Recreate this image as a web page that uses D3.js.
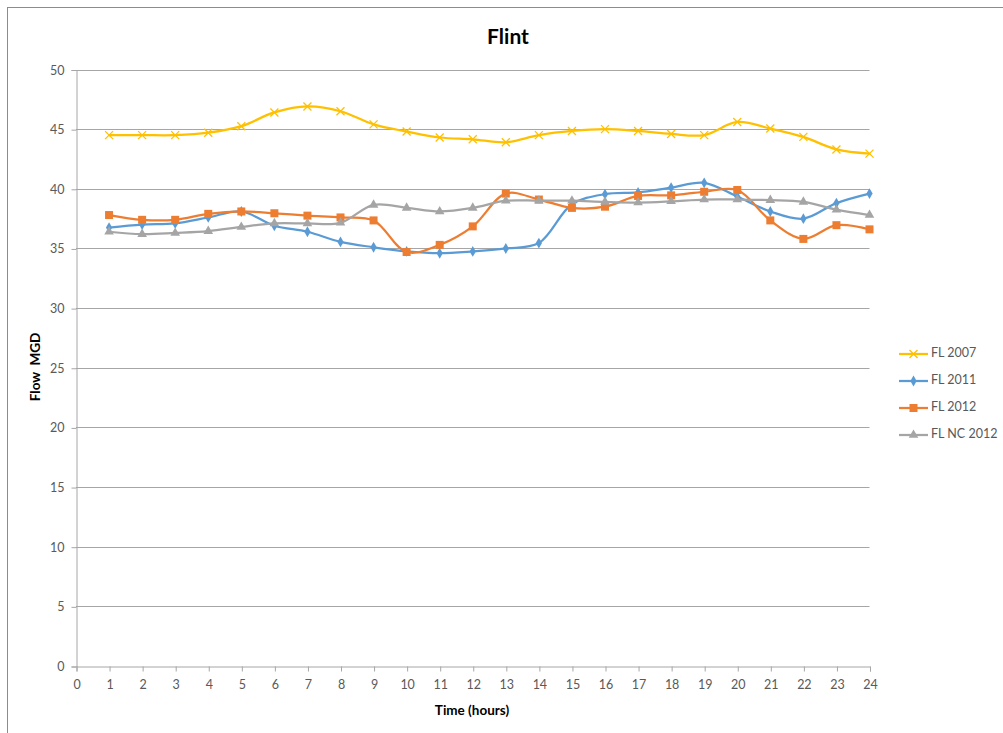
<!DOCTYPE html>
<html>
<head>
<meta charset="utf-8">
<script src="https://cdn.jsdelivr.net/npm/d3@7"></script>
<style>
  body { margin: 0; background: #fff; }
  svg text { font-family: Lato, "Open Sans", sans-serif; }
</style>
</head>
<body>
<svg id="chart" width="1003" height="733"></svg>
<script>
let hours = d3.range(0, 25)
let yTicks = [0, 5, 10, 15, 20, 25, 30, 35, 40, 45, 50]

let fl2007 = [44.5, 44.5, 44.5, 44.7, 45.25, 46.4, 46.9, 46.5, 45.4, 44.8, 44.3, 44.15,
  43.9, 44.5, 44.85, 45.0, 44.85, 44.6, 44.5, 45.6, 45.05, 44.35, 43.3, 42.95]
let fl2011 = [36.75, 37.0, 37.1, 37.6, 38.1, 36.9, 36.4, 35.55, 35.1, 34.75, 34.6, 34.75,
  35.0, 35.45, 38.7, 39.55, 39.7, 40.1, 40.5, 39.35, 38.1, 37.5, 38.8, 39.6]
let fl2012 = [37.8, 37.4, 37.4, 37.9, 38.1, 37.95, 37.75, 37.6, 37.35, 34.7, 35.3, 36.85,
  39.6, 39.1, 38.4, 38.5, 39.4, 39.45, 39.75, 39.9, 37.35, 35.8, 36.95, 36.6]
let flNc2012 = [36.4, 36.2, 36.3, 36.45, 36.8, 37.1, 37.1, 37.15, 38.65, 38.4, 38.1, 38.4,
  39.0, 39.0, 39.0, 38.9, 38.85, 38.95, 39.1, 39.1, 39.05, 38.9, 38.25, 37.8]

let seriesNames = ["FL 2007", "FL 2011", "FL 2012", "FL NC 2012"]
let seriesValues = [fl2007, fl2011, fl2012, flNc2012]
let seriesColors = ["#FFC000", "#5B9BD5", "#ED7D31", "#A5A5A5"]
let seriesMarkers = ["cross", "diamond", "square", "triangle"]

let svg = d3.select("#chart")
let fontColor = "#595959"

// outer chart border (only left and top edges fall inside the picture)
svg.append("rect")
  .attr("x", 7.5)
  .attr("y", 7.5)
  .attr("width", 1100)
  .attr("height", 800)
  .style("fill", "none")
  .style("stroke", "#8c8c8c")
  .style("stroke-width", 1)

let x = d3.scaleLinear().domain([0, 24]).range([76, 869.5])
let y = d3.scaleLinear().domain([0, 50]).range([666, 69.5])

// gridlines
svg.append("g")
  .selectAll("line")
  .data(yTicks.filter(d => d > 0))
  .join("line")
  .attr("x1", x(0))
  .attr("x2", x(24))
  .attr("y1", d => Math.round(y(d)) + 0.5)
  .attr("y2", d => Math.round(y(d)) + 0.5)
  .style("stroke", "#a6a6a6")
  .style("stroke-width", 1)

// y axis
let yAxis = svg.append("g")
  .attr("transform", "translate(76.5,0.5)")
  .call(d3.axisLeft(y).tickValues(yTicks).tickSize(5).tickPadding(7))
yAxis.select(".domain").style("stroke", "#a6a6a6")
yAxis.selectAll(".tick line").style("stroke", "#a6a6a6")
yAxis.selectAll("text")
  .style("font-size", "12.5px")
  .style("fill", fontColor)

// x axis
let xAxis = svg.append("g")
  .attr("transform", "translate(0.5," + (y(0) + 0.5) + ")")
  .call(d3.axisBottom(x).tickValues(hours).tickFormat(d3.format("d")).tickSize(5).tickPadding(9))
xAxis.select(".domain").style("stroke", "#a6a6a6")
xAxis.selectAll(".tick line").style("stroke", "#a6a6a6")
xAxis.selectAll("text")
  .style("font-size", "12.5px")
  .style("fill", fontColor)

// title and axis labels
svg.append("text")
  .attr("x", 508)
  .attr("y", 44)
  .attr("text-anchor", "middle")
  .style("font-size", "21px")
  .style("font-weight", "bold")
  .style("fill", "#000")
  .text("Flint")

svg.append("text")
  .attr("x", 472)
  .attr("y", 715)
  .attr("text-anchor", "middle")
  .style("font-size", "13.5px")
  .style("font-weight", "bold")
  .style("fill", "#000")
  .text("Time (hours)")

svg.append("text")
  .attr("transform", "translate(40,367) rotate(-90)")
  .attr("text-anchor", "middle")
  .style("font-size", "13.5px")
  .style("font-weight", "bold")
  .style("fill", "#000")
  .style("white-space", "pre")
  .text("Flow  MGD")

function drawMarker(g, type, color) {
  if (type == "cross") {
    g.append("path")
      .attr("d", "M-4,-4L4,4M-4,4L4,-4")
      .style("stroke", color)
      .style("stroke-width", 1.3)
      .style("fill", "none")
  } else if (type == "diamond") {
    g.append("path")
      .attr("d", d3.symbol(d3.symbolDiamond, 34)())
      .style("fill", color)
  } else if (type == "square") {
    g.append("path")
      .attr("d", d3.symbol(d3.symbolSquare, 64)())
      .style("fill", color)
  } else {
    g.append("path")
      .attr("d", d3.symbol(d3.symbolTriangle, 40)())
      .style("fill", color)
  }
}

let line = d3.line()
  .x((d, i) => x(i + 1))
  .y(d => y(d))
  .curve(d3.curveCatmullRom.alpha(0.5))

seriesValues.forEach((vals, s) => {
  let g = svg.append("g")
  g.append("path")
    .datum(vals)
    .attr("d", line)
    .style("fill", "none")
    .style("stroke", seriesColors[s])
    .style("stroke-width", 2.25)
    .style("stroke-linejoin", "round")
  vals.forEach((v, i) => {
    let m = g.append("g").attr("transform", "translate(" + x(i + 1) + "," + y(v) + ")")
    drawMarker(m, seriesMarkers[s], seriesColors[s])
  })
})

// legend
let legendY = [354, 381, 408, 435]
seriesNames.forEach((name, s) => {
  let ly = legendY[s]
  svg.append("line")
    .attr("x1", 899)
    .attr("x2", 928)
    .attr("y1", ly)
    .attr("y2", ly)
    .style("stroke", seriesColors[s])
    .style("stroke-width", 2.25)
  let m = svg.append("g").attr("transform", "translate(913.5," + ly + ")")
  drawMarker(m, seriesMarkers[s], seriesColors[s])
  svg.append("text")
    .attr("x", 931)
    .attr("y", ly)
    .attr("dominant-baseline", "middle")
    .style("font-size", "12.5px")
    .style("fill", fontColor)
    .text(name)
})
</script>
</body>
</html>
